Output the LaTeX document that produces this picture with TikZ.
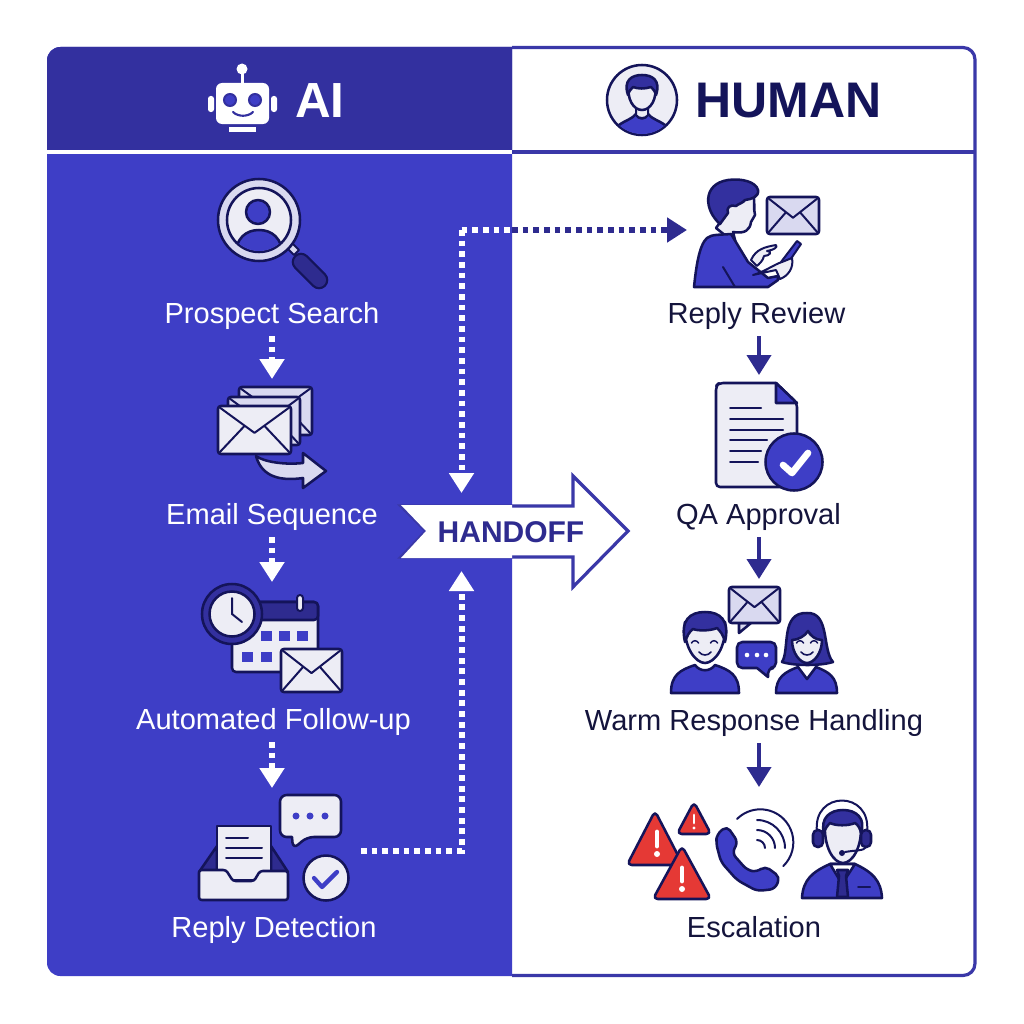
\documentclass[tikz,border=0pt]{standalone}
\usepackage{fontspec}
\setmainfont{Liberation Sans}
\usetikzlibrary{arrows.meta}

\definecolor{panelblue}{HTML}{3E3EC6}
\definecolor{headblue}{HTML}{33309F}
\definecolor{frameblue}{HTML}{3A38A8}
\definecolor{arrowblue}{HTML}{2E2B8F}
\definecolor{navy}{HTML}{14145A}
\definecolor{inktext}{HTML}{14143C}
\definecolor{paleface}{HTML}{EDEDF5}
\definecolor{lavender}{HTML}{D9D9F0}
\definecolor{alertred}{HTML}{E53935}

\tikzset{
  ink/.style={draw=navy,line width=1.9pt,line join=round,line cap=round},
  thinink/.style={draw=navy,line width=1.5pt,line cap=round,line join=round},
  ailabel/.style={inner sep=0pt,anchor=south,text=white,font=\fontsize{21.8}{24}\selectfont,text depth=9pt},
  humanlabel/.style={ailabel,text=inktext},
  aidots/.style={draw=white,line width=4.5pt,dash pattern={on 4.3pt off 3.7pt}},
  humandots/.style={aidots,draw=arrowblue},
  bighead/.style={-{Triangle[length=15pt,width=18pt]}},
  humanflow/.style={draw=arrowblue,line width=3pt,bighead},
}

% envelope: left, top, right, bottom, fill
\newcommand{\mailglyph}[5]{
  \draw[ink,fill=#5,rounded corners=2pt] (#1,#2) rectangle (#3,#4);
  \draw[thinink] (#1+1,#2+1) -- ({(#1+#3)/2},{#2+0.56*(#4-#2)}) -- (#3-1,#2+1);
  \draw[thinink] (#1+1,#4-1) -- ({#1+0.36*(#3-#1)},{#2+0.42*(#4-#2)});
  \draw[thinink] (#3-1,#4-1) -- ({#3-0.36*(#3-#1)},{#2+0.42*(#4-#2)});
}

\begin{document}
\begin{tikzpicture}[x=0.75pt,y=0.75pt,yscale=-1,xscale=1]
  \useasboundingbox (0,0) rectangle (1024,1024);
  \fill[white] (0,0) rectangle (1024,1024);

  % panels
  \fill[white,rounded corners=9pt] (47,47) rectangle (976,976);
  \fill[panelblue] (512,976) [rounded corners=10pt] -- (47,976) -- (47,47) [sharp corners] -- (512,47) -- cycle;
  \fill[headblue] (512,150) -- (47,150) [rounded corners=10pt] -- (47,47) [sharp corners] -- (512,47) -- cycle;
  \fill[white] (47,150) rectangle (512,154);
  \draw[frameblue,line width=2.4pt] (512,152) -- (976,152);
  \draw[frameblue,line width=2.4pt,rounded corners=9pt] (512,47.5) -- (975,47.5) -- (975,975.5) -- (512,975.5);

  % header AI
  \node[text=white,font=\fontsize{37}{40}\selectfont\bfseries,inner sep=0pt] (aihead) at (320,101) {AI};
  \fill[white] (242,69) circle [radius=5.5];
  \fill[white] (240.5,72) rectangle (243.5,84);
  \fill[white,rounded corners=2pt] (208,96) rectangle (214,112);
  \fill[white,rounded corners=2pt] (271,96) rectangle (277,112);
  \fill[white,rounded corners=4.5pt] (216,83) rectangle (269,124);
  \fill[white] (229,127) rectangle (256,132);
  \foreach \ex in {230,255} {
    \draw[fill=panelblue,draw=headblue,line width=1.5pt] (\ex,100) circle [radius=6];
  }
  \draw[headblue,line width=1.6pt,line cap=round] (233,112) .. controls (238,117) and (248,117) .. (253,112);

  % header HUMAN
  \node[text=navy,font=\fontsize{37.5}{40}\selectfont\bfseries,inner sep=0pt] (humanhead) at (788.5,101) {HUMAN};
  \draw[ink,fill=paleface] (642,100) circle [radius=35];
  \begin{scope}
    \clip (642,100) circle [radius=34];
    \draw[ink,fill=panelblue] (617,140) -- (619,125) .. controls (626,120) and (632,119) .. (636,114) .. controls (638,120) and (646,120) .. (648,114) .. controls (652,119) and (658,120) .. (665,125) -- (667,140) -- cycle;
  \end{scope}
  \draw[thinink,fill=paleface] (636,106) -- (636,115) .. controls (638,119) and (646,119) .. (648,115) -- (648,106) -- cycle;
  \draw[ink,fill=paleface] (629,82) .. controls (626,100) and (634,110) .. (642,110) .. controls (650,110) and (658,100) .. (655,82) -- cycle;
  \draw[ink,fill=headblue] (628,95) .. controls (623,80) and (632,75) .. (642,75) .. controls (652,75) and (661,80) .. (656,95) .. controls (655,91) and (653,89) .. (651,87) .. controls (645,89) and (638,89) .. (633,87) .. controls (631,89) and (629,91) .. (628,95) -- cycle;

  % Prospect Search icon
  \draw[navy,line width=14pt,line cap=round] (301,262) -- (319,280);
  \draw[arrowblue,line width=10.5pt,line cap=round] (301,262) -- (319,280);
  \draw[ink,fill=lavender,line width=1.5pt] (287,248) -- (292,243) -- (299,250) -- (294,255) -- cycle;
  \draw[ink,fill=lavender] (259,220) circle [radius=41];
  \draw[ink,fill=paleface] (259,220) circle [radius=32];
  \begin{scope}
    \clip (259,220) circle [radius=31];
    \draw[ink,fill=panelblue] (235,256) .. controls (236,238) and (246,230) .. (259,230) .. controls (272,230) and (282,238) .. (283,256) -- cycle;
  \end{scope}
  \draw[ink,fill=panelblue] (258,212) circle [radius=12];

  % Email Sequence icon
  \mailglyph{239}{387}{312}{435}{lavender}
  \mailglyph{228}{397}{300}{445}{lavender}
  \mailglyph{218}{406}{291}{454}{paleface}
  \draw[ink,fill=lavender] (256,456) .. controls (264,462) and (285,465) .. (303,463) -- (303,453) -- (326,471) -- (303,488) -- (303,478) .. controls (282,481) and (262,478) .. (256,456) -- cycle;

  % Automated Follow-up icon
  \draw[ink,fill=paleface,rounded corners=3pt] (232,602) rectangle (318,672);
  \draw[ink,fill=arrowblue,rounded corners=3pt] (232,620) -- (232,602) -- (318,602) -- (318,620) -- cycle;
  \draw[thinink,fill=paleface,rounded corners=2.2pt] (297,595) rectangle (303,611);
  \foreach \sqx/\sqy in {261/631,279/631,297/631,242/652,261/652} {
    \fill[panelblue] (\sqx,\sqy) rectangle ++(11,10);
  }
  \mailglyph{281}{649}{342}{692}{paleface}
  \draw[draw=navy,line width=1.9pt,fill=headblue] (232,614) circle [radius=30];
  \draw[ink,fill=paleface] (232,614) circle [radius=22.5];
  \draw[thinink] (232,598) -- (232,614) -- (242,622);

  % Reply Detection icon
  \draw[ink,fill=arrowblue] (199,872) -- (217,846) -- (217,872) -- cycle;
  \draw[ink,fill=arrowblue] (271,846) -- (288,872) -- (271,872) -- cycle;
  \draw[ink,fill=paleface] (217,880) -- (217,826) -- (271,826) -- (271,880) -- cycle;
  \draw[thinink] (226,838) -- (248,838);
  \draw[thinink] (226,848) -- (262,848);
  \draw[thinink] (226,858) -- (262,858);
  \draw[ink,fill=paleface,rounded corners=2pt] (199,870) -- (226,870) -- (233,881) -- (254,881) -- (260,871) -- (288,871) -- (288,900) -- (199,900) -- cycle;
  \draw[ink,fill=paleface,rounded corners=5pt] (280,795) -- (341,795) -- (341,837) -- (307,837) -- (293,849) [sharp corners] -- (292,837) [rounded corners=5pt] -- (280,837) -- cycle;
  \foreach \dotx in {296,310,325} {
    \fill[panelblue] (\dotx,816) circle [radius=3.5];
  }
  \draw[ink,fill=paleface] (326,878) circle [radius=22.5];
  \draw[panelblue,line width=3.2pt,line cap=round,line join=round] (314,878) -- (322,887) -- (337,872);

  % Reply Review icon
  \draw[ink,fill=paleface] (716,228) -- (727,213) -- (726,195) -- (752,190) .. controls (756,203) and (753,208) .. (755,215) -- (751,222) .. controls (750,230) and (745,234) .. (733,232) -- (736,244) -- cycle;
  \draw[ink,fill=headblue] (720,224) .. controls (704,210) and (702,184) .. (728,180) .. controls (742,178) and (756,182) .. (758,190) .. controls (759,197) and (752,199) .. (745,200) .. controls (743,203) and (738,204) .. (736,206) .. controls (730,204) and (726,208) .. (728,213) -- cycle;
  \draw[ink,fill=panelblue] (694,287) .. controls (696,268) and (699,245) .. (707,238) .. controls (712,234) and (720,235) .. (731,234) -- (748,262) -- (768,278) -- (778,276) -- (778,280) -- (768,287) -- cycle;
  \draw[thinink] (723,267) -- (735,287);
  \draw[thinink,fill=panelblue] (781,262) -- (797,241) -- (801,244) -- (786,266) -- cycle;
  \draw[thinink,fill=paleface] (751,260) .. controls (756,249) and (765,247) .. (776,245) .. controls (778,247) and (774,250) .. (767,251) .. controls (773,251) and (770,256) .. (764,256) .. controls (763,261) and (759,264) .. (757,266) -- cycle;
  \draw[thinink,fill=paleface] (753,275) .. controls (764,272) and (775,264) .. (782,262) -- (792,258) .. controls (794,268) and (788,276) .. (780,279) -- (776,270) -- cycle;
  \mailglyph{767}{197}{819}{234}{lavender}

  % QA Approval icon
  \draw[ink,fill=paleface,rounded corners=3pt] (776,383) -- (719,383) -- (716,386) -- (716,487) -- (797,487) -- (797,403) [sharp corners] -- (776,383) -- cycle;
  \draw[ink,fill=panelblue] (776,383) -- (776,403) -- (797,403) -- cycle;
  \foreach \ly/\lx in {408/761,419/783,430/783,440/767,451/761,462/758} {
    \draw[thinink] (730,\ly) -- (\lx,\ly);
  }
  \draw[ink,fill=panelblue] (794,462) circle [radius=28.5];
  \draw[white,line width=5pt,line cap=round,line join=round] (783,465) -- (792,473) -- (808,453);

  % Warm Response Handling icon
  \draw[ink,fill=panelblue] (671,693) .. controls (671,675) and (680,670) .. (695,665) .. controls (700,672) and (710,672) .. (715,665) .. controls (730,670) and (739,675) .. (739,693) -- cycle;
  \draw[ink,fill=paleface] (685,622) .. controls (683,648) and (696,663) .. (705,663) .. controls (714,663) and (727,648) .. (725,622) -- cycle;
  \draw[ink,fill=headblue] (685,642) .. controls (680,620) and (690,612) .. (705,612) .. controls (720,612) and (730,620) .. (725,642) .. controls (723,634) and (720,631) .. (717,628) .. controls (710,631) and (698,631) .. (693,629) .. controls (689,632) and (687,636) .. (685,642) -- cycle;
  \draw[ink,fill=headblue] (782,662) .. controls (790,650) and (780,612) .. (807,613) .. controls (830,612) and (822,650) .. (833,662) .. controls (820,666) and (795,666) .. (782,662) -- cycle;
  \draw[ink,fill=panelblue] (776,693) .. controls (776,677) and (785,672) .. (798,667) -- (807,679) -- (816,667) .. controls (829,672) and (837,677) .. (837,693) -- cycle;
  \draw[ink,fill=paleface] (792,640) .. controls (792,653) and (800,663) .. (807,663) .. controls (814,663) and (822,653) .. (822,640) .. controls (815,640) and (810,635) .. (808,631) .. controls (805,636) and (798,640) .. (792,640) -- cycle;
  \foreach \fx in {695,714,800,814} {
    \draw[navy,line width=1.1pt,line cap=round] (\fx-3.5,643) .. controls (\fx-2,640) and (\fx+2,640) .. (\fx+3.5,643);
  }
  \draw[navy,line width=1.2pt,line cap=round] (699,652) .. controls (702,656) and (708,656) .. (711,652);
  \draw[navy,line width=1.2pt,line cap=round] (801,652) .. controls (804,656) and (810,656) .. (813,652);
  \draw[ink,fill=lavender] (739,623) -- (739,633) -- (751,623) -- cycle;
  \mailglyph{729}{587}{780}{623}{lavender}
  \draw[ink,fill=panelblue,rounded corners=4pt] (737,642) -- (776,642) -- (776,668) -- (768,668) [sharp corners] -- (768,677) -- (757,668) [rounded corners=4pt] -- (737,668) -- cycle;
  \foreach \dotx in {747,757,766} {
    \fill[white] (\dotx,655) circle [radius=2.3];
  }

  % Escalation icon
  \foreach \tipx/\tipy/\half/\high in {655/815/28/50,694/806/17/28,682/850/29/49} {
    \draw[ink,fill=alertred,rounded corners=3.5pt] (\tipx,\tipy-4) -- (\tipx+\half,\tipy+\high) -- (\tipx-\half,\tipy+\high) -- cycle;
  }
  \draw[white,line width=3.6pt,line cap=round] (657,832) -- (657,846);
  \fill[white] (657,854) circle [radius=3];
  \draw[white,line width=3.6pt,line cap=round] (682,868) -- (682,881);
  \fill[white] (682,889) circle [radius=3];
  \draw[white,line width=2.2pt,line cap=round] (694,815) -- (694,823);
  \fill[white] (694,828) circle [radius=1.7];
  \draw[ink,fill=panelblue,rounded corners=4pt] (727,826) -- (738,842) -- (732,853) -- (747,870) -- (757,872) -- (765,866) -- (780,877) -- (775,889) -- (757,891) -- (737,880) -- (721,862) -- (716,843) -- (717,834) -- cycle;
  \draw[thinink] (737,819) arc [start angle=-135,end angle=46,radius=33];
  \foreach \sigr in {8,18,28} {
    \draw[thinink] (757,848-\sigr) arc [start angle=-90,end angle=0,radius=\sigr];
  }
  \draw[ink,fill=panelblue] (802,898) .. controls (803,880) and (812,872) .. (830,864) -- (855,864) .. controls (872,872) and (881,880) .. (882,898) -- cycle;
  \draw[ink,fill=white] (830,864) -- (842,884) -- (855,864) -- cycle;
  \draw[ink,fill=arrowblue] (837,870) -- (848,870) -- (846,876) -- (848,897) -- (837,897) -- (839,876) -- cycle;
  \draw[thinink] (858,887) -- (870,887);
  \draw[ink,fill=paleface] (825,820) .. controls (823,848) and (834,863) .. (843,863) .. controls (852,863) and (863,848) .. (861,820) -- cycle;
  \draw[ink,fill=headblue] (824,833) .. controls (820,818) and (830,810) .. (843,810) .. controls (856,810) and (866,818) .. (861,833) .. controls (860,828) and (858,825) .. (855,823) .. controls (848,826) and (836,826) .. (830,823) .. controls (827,826) and (825,829) .. (824,833) -- cycle;
  \draw[thinink] (817,832) .. controls (812,790) and (872,790) .. (867,832);
  \draw[ink,fill=arrowblue,rounded corners=3.5pt] (813,830) rectangle (823,847);
  \draw[ink,fill=arrowblue,rounded corners=3.5pt] (861,830) rectangle (871,847);
  \draw[thinink] (866,847) .. controls (864,851) and (856,850) .. (845,852);
  \fill[navy] (842,853) circle [radius=3];

  % labels
  \node[ailabel] (prospect) at (272,336) {Prospect Search};
  \node[ailabel] (sequence) at (272,537) {Email Sequence};
  \node[ailabel] (followup) at (273.5,742) {Automated Follow-up};
  \node[ailabel] (detection) at (274,950) {Reply Detection};
  \node[humanlabel] (review) at (756.5,336) {Reply Review};
  \node[humanlabel] (approval) at (758.5,537) {QA Approval};
  \node[humanlabel] (warm) at (754,743) {Warm Response Handling};
  \node[humanlabel] (escalation) at (754,950) {Escalation};

  % handoff arrow
  \draw[frameblue,line width=2.4pt,fill=white,line join=miter] (401,506) -- (573,506) -- (573,476) -- (628,531) -- (573,587) -- (573,557) -- (401,557) -- (426,531) -- cycle;
  \fill[white] (401,505) -- (512,505) -- (512,558) -- (401,558) -- (426,531) -- cycle;
  \node[text=arrowblue,font=\fontsize{22.5}{24}\selectfont\bfseries,inner sep=0pt] (handoff) at (511,532) {HANDOFF};

  % named ends of the connectors
  \coordinate (seqtop) at (272,379);
  \coordinate (followtop) at (272,582);
  \coordinate (detecttop) at (272,788);
  \coordinate (qatop) at (759,375);
  \coordinate (warmtop) at (759,579);
  \coordinate (esctop) at (759,787);
  \coordinate (handtop) at (461.5,493);
  \coordinate (handbottom) at (461.5,571);
  \coordinate (reviewin) at (687,230);
  \coordinate (turnup) at (461.5,230);
  \coordinate (crossing) at (512,230);
  \coordinate (detectout) at (361,851);

  % connectors
  \draw[aidots,bighead] (prospect.south) -- (seqtop);
  \draw[aidots,bighead] (sequence.south) -- (followtop);
  \draw[aidots,bighead] (followup.south -| detecttop) -- (detecttop);
  \draw[aidots,bighead] (detectout) -| (handbottom);
  \draw[aidots,bighead] (turnup) -- (handtop);
  \draw[aidots] (turnup) -- (crossing);
  \draw[humandots,bighead] (crossing) -- (reviewin);
  \draw[humanflow] (review.south -| qatop) -- (qatop);
  \draw[humanflow] (approval.south -| warmtop) -- (warmtop);
  \draw[humanflow] (warm.south -| esctop) -- (esctop);
\end{tikzpicture}
\end{document}
